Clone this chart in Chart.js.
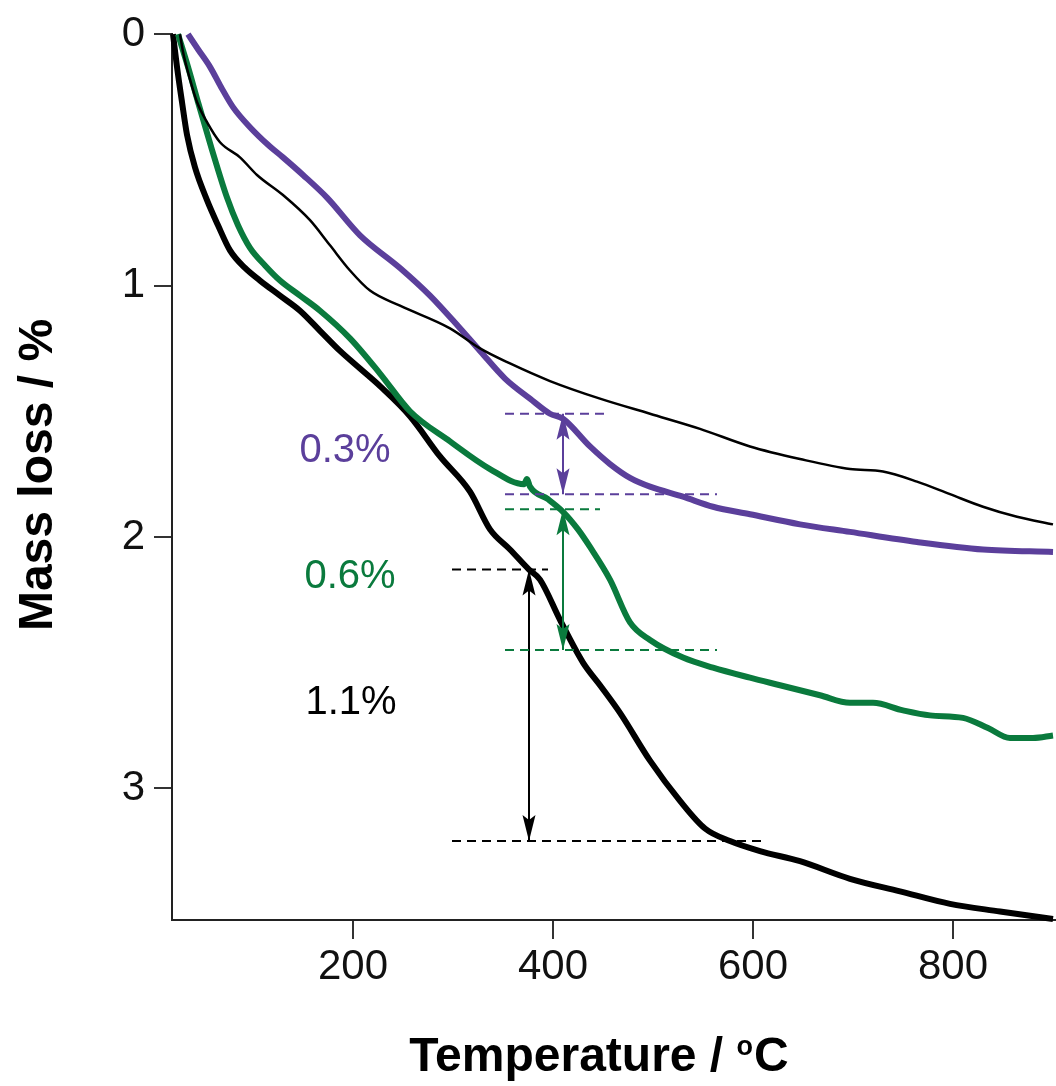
<!DOCTYPE html>
<html>
<head>
<meta charset="utf-8">
<script src="https://cdn.jsdelivr.net/npm/chart.js@4/dist/chart.umd.min.js"></script>
<style>
  html, body { margin: 0; padding: 0; background: #fff; }
  #wrap { width: 1056px; height: 1086px; }
</style>
</head>
<body>
<div id="wrap"><canvas id="tgaChart"></canvas></div>
<script>
Chart.defaults.font.family = '"Liberation Sans", Arial, sans-serif';
Chart.defaults.color = '#111';

// temperature (degC) and mass loss (%)
let thickBlackT = [20, 24, 29, 34, 42, 54, 65, 77, 92, 107, 127, 147, 167, 187, 207, 227, 257, 287, 317, 337, 357, 376, 387, 407, 430, 447, 467, 497, 527, 552, 577, 607, 647, 697, 747, 797, 847, 900];
let thickBlackV = [0, 0.13, 0.27, 0.40, 0.53, 0.66, 0.76, 0.86, 0.93, 0.98, 1.04, 1.10, 1.18, 1.26, 1.33, 1.40, 1.52, 1.68, 1.82, 1.97, 2.05, 2.13, 2.17, 2.33, 2.50, 2.59, 2.70, 2.89, 3.05, 3.16, 3.21, 3.25, 3.29, 3.36, 3.41, 3.46, 3.49, 3.52];

let greenT = [25, 35, 45, 59, 74, 85, 97, 112, 127, 147, 167, 197, 227, 257, 297, 337, 371, 374, 377, 395, 410, 425, 437, 457, 477, 497, 530, 560, 597, 627, 667, 697, 720, 750, 777, 810, 835, 857, 880, 900];
let greenV = [0, 0.13, 0.27, 0.46, 0.65, 0.76, 0.85, 0.92, 0.98, 1.04, 1.10, 1.21, 1.35, 1.50, 1.62, 1.73, 1.79, 1.77, 1.80, 1.85, 1.90, 1.97, 2.04, 2.17, 2.34, 2.41, 2.48, 2.52, 2.56, 2.59, 2.63, 2.66, 2.66, 2.69, 2.71, 2.72, 2.76, 2.80, 2.80, 2.79];

let purpleT = [35, 45, 57, 68, 80, 97, 115, 130, 150, 174, 207, 247, 277, 307, 327, 352, 377, 397, 410, 437, 457, 477, 497, 530, 560, 597, 647, 697, 764, 830, 900];
let purpleV = [0, 0.06, 0.13, 0.21, 0.29, 0.37, 0.44, 0.49, 0.56, 0.65, 0.80, 0.93, 1.04, 1.17, 1.26, 1.37, 1.45, 1.51, 1.53, 1.64, 1.71, 1.765, 1.80, 1.84, 1.88, 1.91, 1.95, 1.98, 2.02, 2.05, 2.06];

let thinBlackT = [27, 30, 37, 44, 54, 67, 87, 104, 130, 157, 177, 197, 217, 247, 297, 327, 357, 397, 447, 497, 547, 597, 647, 697, 730, 764, 797, 830, 864, 900];
let thinBlackV = [0, 0.07, 0.18, 0.27, 0.35, 0.43, 0.49, 0.56, 0.64, 0.74, 0.84, 0.94, 1.02, 1.08, 1.17, 1.25, 1.31, 1.38, 1.45, 1.51, 1.57, 1.64, 1.69, 1.73, 1.74, 1.78, 1.83, 1.88, 1.92, 1.95];

// step annotations: purple, green, black
let stepLabels = ['0.3%', '0.6%', '1.1%'];
let stepTop = [1.51, 1.89, 2.13];
let stepBottom = [1.83, 2.45, 3.21];
let stepArrowT = [410, 410, 376];
let dashStartT = [352, 352, 299];
let dashTopEndT = [457, 447, 395];
let dashBottomEndT = [564, 564, 612];
let labelT = [192, 197, 198];
let labelV = [1.657, 2.16, 2.66];

let xTicks = [200, 400, 600, 800];
let yTicks = [0, 1, 2, 3];

const purple = '#5b3f9b';
const green = '#0a7a3d';
const stepColors = [purple, green, '#000'];
const fontFam = '"Liberation Sans", Arial, sans-serif';

function pts(xs, ys) {
    return xs.map((x, i) => ({ x: x, y: ys[i] }));
}

function curve(xs, ys, color, width) {
    return {
        data: pts(xs, ys),
        borderColor: color,
        borderWidth: width,
        pointRadius: 0,
        cubicInterpolationMode: 'monotone',
        clip: 12,
        order: 2
    };
}

function seg(x0, x1, y0, y1, color, dashed) {
    return {
        data: [{ x: x0, y: y0 }, { x: x1, y: y1 }],
        borderColor: color,
        borderWidth: 2,
        borderDash: dashed ? [9, 6] : [],
        pointRadius: 0,
        tension: 0,
        clip: 12,
        order: 0
    };
}

let datasets = [
    curve(thinBlackT, thinBlackV, '#000', 2.5),
    curve(purpleT, purpleV, purple, 6),
    curve(greenT, greenV, green, 6),
    curve(thickBlackT, thickBlackV, '#000', 6)
];
stepLabels.forEach((s, i) => {
    datasets.push(seg(dashStartT[i], dashTopEndT[i], stepTop[i], stepTop[i], stepColors[i], true));
    datasets.push(seg(dashStartT[i], dashBottomEndT[i], stepBottom[i], stepBottom[i], stepColors[i], true));
    datasets.push(seg(stepArrowT[i], stepArrowT[i], stepTop[i], stepBottom[i], stepColors[i], false));
});

// arrow heads + percentage labels
function arrowHead(ctx, px, py, dir) {
    ctx.beginPath();
    ctx.moveTo(px, py);
    ctx.lineTo(px - 6.5, py + dir * 26);
    ctx.lineTo(px, py + dir * 21);
    ctx.lineTo(px + 6.5, py + dir * 26);
    ctx.closePath();
    ctx.fill();
}

const annotate = {
    id: 'annotate',
    afterDatasetsDraw(chart) {
        const { ctx } = chart;
        const x = chart.scales.x, y = chart.scales.y;
        ctx.save();
        stepLabels.forEach((txt, i) => {
            const px = x.getPixelForValue(stepArrowT[i]);
            ctx.fillStyle = stepColors[i];
            arrowHead(ctx, px, y.getPixelForValue(stepTop[i]), 1);
            arrowHead(ctx, px, y.getPixelForValue(stepBottom[i]), -1);
            ctx.font = '40px ' + fontFam;
            ctx.textAlign = 'center';
            ctx.textBaseline = 'middle';
            ctx.fillText(txt, x.getPixelForValue(labelT[i]), y.getPixelForValue(labelV[i]));
        });
        ctx.restore();
    },
    afterDraw(chart) {
        const { ctx } = chart;
        ctx.save();
        ctx.fillStyle = '#000';
        // y title
        ctx.font = 'bold 48px ' + fontFam;
        ctx.textAlign = 'center';
        ctx.textBaseline = 'alphabetic';
        ctx.translate(52, 475);
        ctx.rotate(-Math.PI / 2);
        ctx.fillText('Mass loss / %', 0, 0);
        ctx.setTransform(1, 0, 0, 1, 0, 0);
        // x title with superscript o
        const a = 'Temperature / ', sup = 'o', c = 'C';
        ctx.font = 'bold 48px ' + fontFam;
        const wa = ctx.measureText(a).width, wc = ctx.measureText(c).width;
        ctx.font = 'bold 27px ' + fontFam;
        const ws = ctx.measureText(sup).width;
        let x0 = 599 - (wa + ws + wc + 1) / 2;
        ctx.textAlign = 'left';
        ctx.font = 'bold 48px ' + fontFam;
        ctx.fillText(a, x0, 1071);
        ctx.font = 'bold 27px ' + fontFam;
        ctx.fillText(sup, x0 + wa, 1055);
        ctx.font = 'bold 48px ' + fontFam;
        ctx.fillText(c, x0 + wa + ws + 1, 1071);
        ctx.restore();
    }
};

let ctx1 = document.getElementById('tgaChart').getContext('2d');
let chart1 = new Chart(ctx1, {
    type: 'line',
    data: { datasets: datasets },
    options: {
        responsive: true,
        maintainAspectRatio: false,
        animation: false,
        layout: { padding: { top: 33, right: 0, left: 0, bottom: 0 } },
        plugins: { legend: { display: false }, tooltip: { enabled: false } },
        scales: {
            x: {
                type: 'linear',
                min: 19,
                max: 903,
                afterBuildTicks: s => { s.ticks = xTicks.map(v => ({ value: v })); },
                afterFit: s => { s.height = 166; },
                ticks: { font: { size: 42 }, color: '#111', padding: 3, maxRotation: 0, autoSkip: false },
                grid: { drawOnChartArea: false, tickLength: 19, color: '#333', lineWidth: 2 },
                border: { color: '#222', width: 2 }
            },
            y: {
                type: 'linear',
                reverse: true,
                min: 0,
                max: 3.524,
                afterBuildTicks: s => { s.ticks = yTicks.map(v => ({ value: v })); },
                afterFit: s => { s.width = 172; },
                ticks: { font: { size: 42 }, color: '#111', padding: 9 },
                grid: { drawOnChartArea: false, tickLength: 18, color: '#333', lineWidth: 2 },
                border: { color: '#222', width: 2 }
            }
        }
    },
    plugins: [annotate]
});
</script>
</body>
</html>
